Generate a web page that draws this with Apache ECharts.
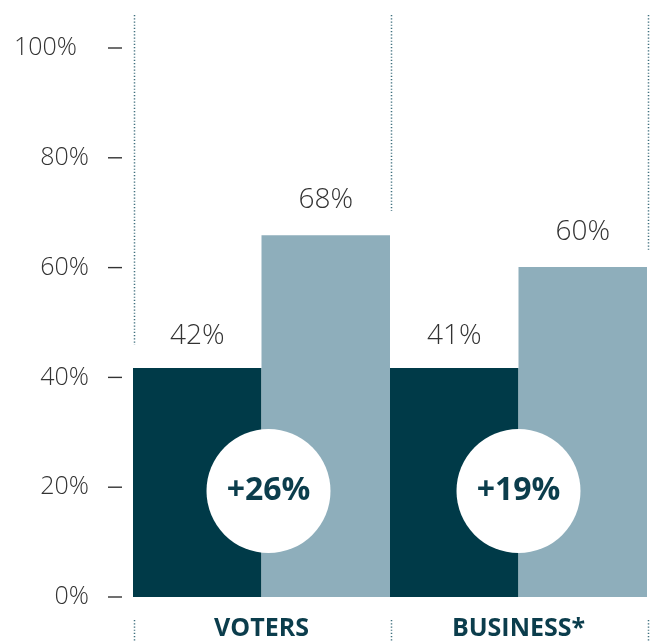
<!DOCTYPE html>
<html>
<head>
<meta charset="utf-8">
<script src="https://cdn.jsdelivr.net/npm/echarts@6/dist/echarts.min.js"></script>
<style>
html,body{margin:0;padding:0;background:#fff;}
#c{width:651px;height:641px;}
</style>
</head>
<body>
<div id="c"></div>
<script>
// Data
var categories = ['VOTERS', 'BUSINESS*'];
var beforeValues = [41.7, 41.7];
var afterValues = [65.9, 60.1];
var beforeLabels = ['42%', '41%'];
var afterLabels = ['68%', '60%'];
var diffLabels = ['+26%', '+19%'];
var diffLevel = [19.3, 19.3];
var yTicks = [0, 20, 40, 60, 80, 100];
// separator lines: [boundary index, y from, y to]
var separators = [
  [0, 106, 45.9], [1, 106, 70.3], [2, 106, 63.0],
  [0, -4.2, -8.0], [1, -4.2, -8.0], [2, -4.2, -8.0]
];

var dark = '#003a48';
var light = '#8eaebb';
var textDark = '#0b3d4c';

var chart = echarts.init(document.getElementById('c'), null, {renderer: 'canvas'});
chart.setOption({
  animation: false,
  backgroundColor: '#ffffff',
  grid: {left: 133, right: 4, top: 48, bottom: 44, containLabel: false},
  xAxis: [{
    type: 'category',
    data: categories,
    boundaryGap: true,
    axisLine: {show: false},
    axisTick: {show: false},
    splitLine: {show: false},
    axisLabel: {
      margin: 19,
      color: textDark,
      fontFamily: 'Open Sans',
      fontWeight: 'bold',
      fontSize: 25
    }
  }, {
    type: 'value',
    min: 0, max: 100 / 50,
    show: false
  }],
  yAxis: {
    type: 'value',
    min: 0, max: 100, interval: 20,
    axisLine: {show: false},
    axisTick: {show: false},
    splitLine: {show: false},
    axisLabel: {
      margin: 11,
      formatter: function (v) {
        return '{a|' + v + '%}' + (v >= 100 ? '{w|}' : '{s|}') + '{t|}';
      },
      rich: {
        a: {color: '#333', fontFamily: 'Open Sans', fontWeight: 300, fontSize: 25},
        s: {width: 19, height: 2},
        w: {width: 31, height: 2},
        t: {width: 14, height: 1.4, backgroundColor: '#333', verticalAlign: 'middle'}
      }
    }
  },
  series: [{
    type: 'bar',
    data: beforeValues,
    barGap: '0%',
    barCategoryGap: '0%',
    itemStyle: {color: dark},
    label: {
      show: true, position: 'top', distance: 18,
      formatter: function (p) { return beforeLabels[p.dataIndex]; },
      color: '#333', fontFamily: 'Open Sans', fontWeight: 300, fontSize: 28
    }
  }, {
    type: 'bar',
    data: afterValues,
    barGap: '0%',
    barCategoryGap: '0%',
    itemStyle: {color: light},
    label: {
      show: true, position: 'top', distance: 21,
      formatter: function (p) { return afterLabels[p.dataIndex]; },
      color: '#333', fontFamily: 'Open Sans', fontWeight: 300, fontSize: 28
    }
  }, {
    type: 'scatter',
    data: diffLevel.map(function (v, i) {
      return {value: v, symbolOffset: i === 0 ? [7, 0] : [0, 0]};
    }),
    symbol: 'circle',
    symbolSize: 124,
    itemStyle: {color: '#ffffff', opacity: 1},
    z: 5,
    label: {
      show: true, position: 'inside',
      formatter: function (p) { return diffLabels[p.dataIndex]; },
      color: textDark, fontFamily: 'Open Sans', fontWeight: 'bold', fontSize: 32
    }
  }, {
    type: 'custom',
    xAxisIndex: 1,
    clip: false,
    silent: true,
    data: separators,
    renderItem: function (params, api) {
      var p1 = api.coord([api.value(0), api.value(1)]);
      var p2 = api.coord([api.value(0), api.value(2)]);
      return {
        type: 'line',
        shape: {x1: p1[0] + 1.5, y1: p1[1], x2: p2[0] + 1.5, y2: p2[1]},
        style: {stroke: '#3f6f7e', lineWidth: 1.5, lineDash: [1.2, 2]}
      };
    }
  }]
});
</script>
</body>
</html>
